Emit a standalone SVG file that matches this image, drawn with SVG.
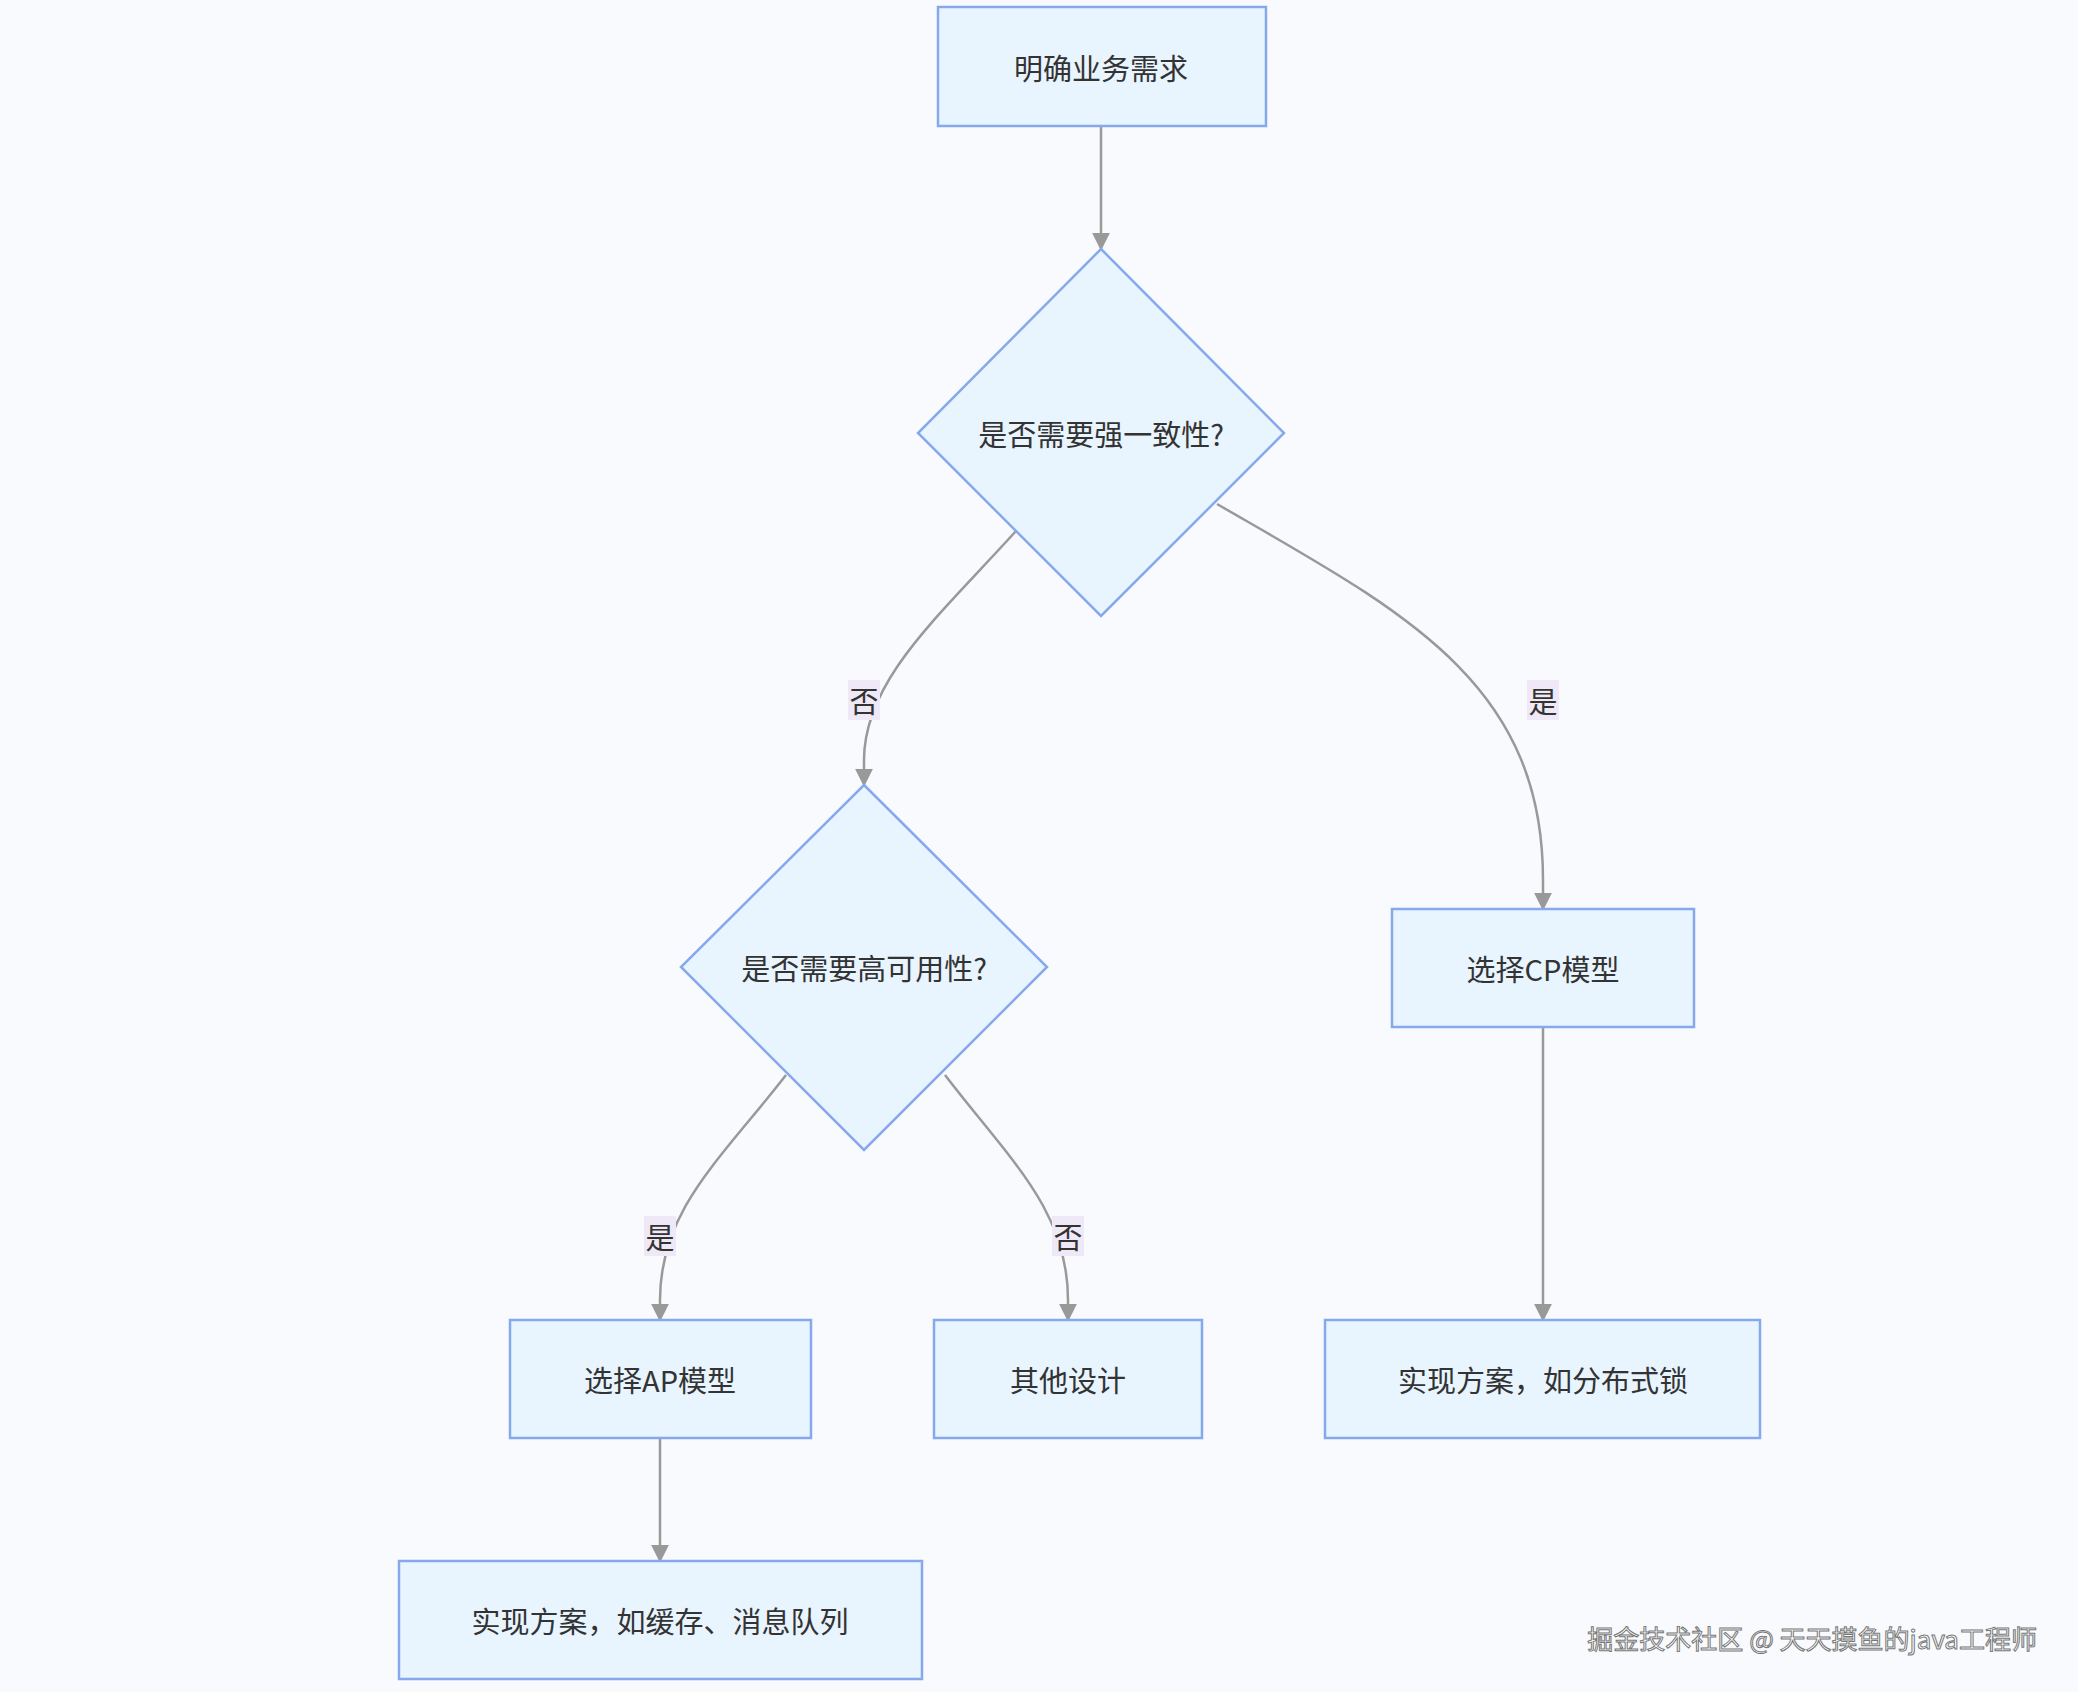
<svg xmlns="http://www.w3.org/2000/svg" width="2078" height="1692" viewBox="0 0 2078 1692">
<style>
.n{fill:#e8f4fe;stroke:#86a9ee;stroke-width:2.5}
.t{font-family:"Noto Sans CJK SC","Noto Sans",sans-serif;font-size:29px;fill:#333;text-anchor:middle;dominant-baseline:central}
.e{fill:none;stroke:#999;stroke-width:2.5;marker-end:url(#a)}
.lb{fill:#efe8f6}
</style>
<defs><marker id="a" viewBox="0 0 10 10" refX="9" refY="5" markerWidth="18" markerHeight="18" orient="auto" markerUnits="userSpaceOnUse"><path d="M0,0L10,5L0,10z" fill="#999"/></marker></defs>
<rect width="2078" height="1692" fill="#f8fafd"/>
<g id="edges">
<path class="e" d="M1101,126L1101,249"/>
<path class="e" d="M1016,531C940,615 864,680 864,760L864,785"/>
<path class="e" d="M1217,504C1400,610 1543,680 1543,880L1543,909"/>
<path class="e" d="M786,1075C720,1160 660,1210 660,1300L660,1320"/>
<path class="e" d="M945,1075C1010,1160 1068,1210 1068,1300L1068,1320"/>
<path class="e" d="M1543,1027L1543,1320"/>
<path class="e" d="M660,1438L660,1561"/>
<rect class="lb" x="848" y="680" width="32" height="40"/><text class="t" x="864" y="700">否</text>
<rect class="lb" x="1527" y="680" width="32" height="40"/><text class="t" x="1543" y="700">是</text>
<rect class="lb" x="644" y="1216" width="32" height="40"/><text class="t" x="660" y="1236">是</text>
<rect class="lb" x="1052" y="1216" width="32" height="40"/><text class="t" x="1068" y="1236">否</text>
</g>
<g id="n1"><rect class="n" x="938" y="7" width="328" height="119"/><text class="t" x="1101" y="67">明确业务需求</text></g>
<g id="d1"><polygon class="n" points="1101,249 1284,433 1101,616 918,433"/><text class="t" x="1101" y="433">是否需要强一致性?</text></g>
<g id="d2"><polygon class="n" points="864,785 1047,967 864,1150 681,967"/><text class="t" x="864" y="967">是否需要高可用性?</text></g>
<g id="cp"><rect class="n" x="1392" y="909" width="302" height="118"/><text class="t" x="1543" y="968">选择CP模型</text></g>
<g id="ap"><rect class="n" x="510" y="1320" width="301" height="118"/><text class="t" x="660" y="1379">选择AP模型</text></g>
<g id="other"><rect class="n" x="934" y="1320" width="268" height="118"/><text class="t" x="1068" y="1379">其他设计</text></g>
<g id="lock"><rect class="n" x="1325" y="1320" width="435" height="118"/><text class="t" x="1543" y="1379">实现方案，如分布式锁</text></g>
<g id="queue"><rect class="n" x="399" y="1561" width="523" height="118"/><text class="t" x="660" y="1620">实现方案，如缓存、消息队列</text></g>
<text x="2037" y="1637" style="font-family:'Noto Sans CJK SC',sans-serif;font-size:26px;fill:#fff;stroke:#777;stroke-width:1;text-anchor:end;dominant-baseline:central">掘金技术社区 @ 天天摸鱼的java工程师</text>
</svg>
